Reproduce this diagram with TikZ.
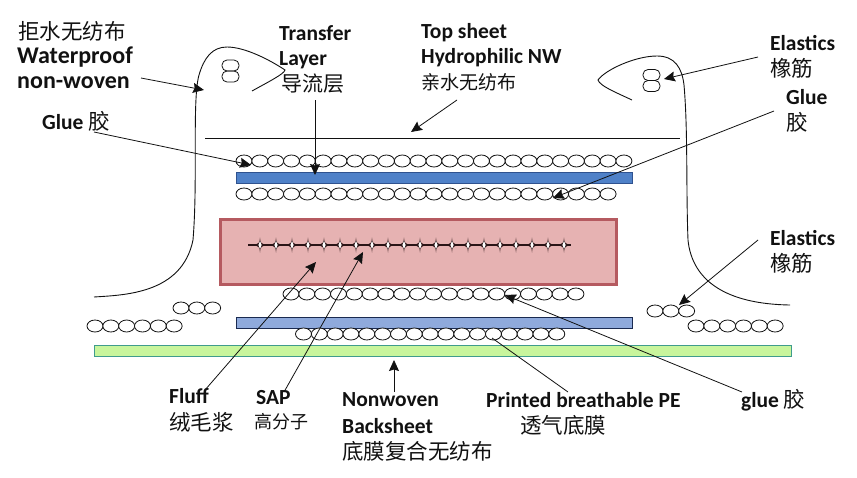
\documentclass[tikz,border=0pt]{standalone}
\usepackage{fontspec}
\setmainfont{Carlito}
\newfontfamily\cjk{Noto Sans CJK SC}
\usetikzlibrary{arrows.meta}
\definecolor{inkc}{HTML}{111111}
\definecolor{blueA}{HTML}{4F81C8}
\definecolor{blueB}{HTML}{8FAADC}
\definecolor{navy}{HTML}{1A2A50}
\definecolor{blueD}{HTML}{2F528F}
\definecolor{greenF}{HTML}{C8F59C}
\definecolor{greenD}{HTML}{3F9C8C}
\definecolor{redF}{HTML}{E6B2B2}
\definecolor{redD}{HTML}{B55A60}
\definecolor{fibre}{HTML}{2A1416}
\tikzset{
 x=1pt,y=-1pt,
 en/.style={anchor=west,inner sep=0pt,font=\fontsize{21.5}{21.5}\selectfont\bfseries,text=inkc},
 enbig/.style={anchor=west,inner sep=0pt,font=\fontsize{24}{24}\selectfont\bfseries,text=inkc},
 zh/.style={anchor=west,inner sep=0pt,font=\fontsize{21.5}{21.5}\selectfont\cjk,text=inkc},
 lead/.style={draw=inkc,line width=.8pt,-{Stealth[length=11pt,width=10pt,inset=1.5pt]}},
 plainlead/.style={draw=inkc,line width=.8pt},
 curveline/.style={draw=inkc,line width=.9pt},
 bead/.style={draw=inkc,line width=.8pt,fill=white},
 loopbox/.style={draw=inkc,line width=.8pt,rounded corners=5pt,minimum width=17pt,minimum height=11pt,inner sep=0pt},
}
% \beads{first centre x}{y}{count}
\newcommand{\beads}[3]{\foreach \i in {1,...,#3}{\path[bead] ({#1+(\i-1)*15.83},#2) ellipse [x radius=8,y radius=6];}}
\begin{document}
\begin{tikzpicture}
\useasboundingbox (0,0) rectangle (857,477);
% sheets
\node[draw=redD,line width=3pt,fill=redF,minimum width=396pt,minimum height=65pt,inner sep=0pt] (core) at (418.5,252) {};
\node[draw=blueD,line width=.8pt,fill=blueA,minimum width=396pt,minimum height=11pt,inner sep=0pt] (transfer) at (434,177.5) {};
\node[draw=navy,line width=.8pt,fill=blueB,minimum width=396pt,minimum height=11pt,inner sep=0pt] (pe) at (434,323) {};
\node[draw=greenD,line width=.8pt,fill=greenF,minimum width=697pt,minimum height=11pt,inner sep=0pt] (back) at (442.5,351) {};
% top sheet
\coordinate (topL) at (205,138);
\coordinate (topR) at (680,138);
\draw[line width=.9pt,draw=inkc] (topL) -- (topR);
% beads
\beads{244}{161}{25}
\beads{244}{194}{24}
\beads{291}{294}{19}
\beads{303.5}{334}{17}
\beads{181}{308}{3}
\beads{95}{326}{6}
\beads{655}{311}{3}
\beads{696}{326}{6}
% side curves
\draw[curveline] (94,297) .. controls (124,295) and (182,294) .. (193,240)
 .. controls (198,180) and (192,100) .. (199,75)
 .. controls (204,58) and (212,47) .. (227,47)
 .. controls (245,47) and (270,60) .. (285,70)
 .. controls (284,74) and (270,81) .. (252,91);
\draw[curveline] (632,100) .. controls (615,92) and (600,86) .. (598,80)
 .. controls (605,70) and (635,56) .. (657,56)
 .. controls (675,56) and (682,68) .. (684,85)
 .. controls (688,130) and (686,190) .. (688,240)
 .. controls (692,280) and (725,304) .. (790,305);
% elastics
\node[loopbox] (eL1) at (230.5,65.5) {};
\node[loopbox] (eL2) at (230.5,76.5) {};
\node[loopbox] (eR1) at (651.5,75) {};
\node[loopbox] (eR2) at (651.5,86) {};
% fibre strip
\coordinate (stripL) at (248,245);
\coordinate (stripR) at (571,245);
\draw[fibre,line width=1.4pt] (stripL) -- (stripR);
\foreach \i in {0,...,19}{
 \path[fill=fibre] ({260+\i*16},237.5) .. controls ({260.5+\i*16},243) .. ({266+\i*16},245)
   .. controls ({260.5+\i*16},247) .. ({260+\i*16},252.5)
   .. controls ({259.5+\i*16},247) .. ({254+\i*16},245)
   .. controls ({259.5+\i*16},243) .. ({260+\i*16},237.5) -- cycle;
 \path[fill=white] ({260+\i*16},241) -- ({261.6+\i*16},245) -- ({260+\i*16},249) -- ({258.4+\i*16},245) -- cycle;
}
% labels
\node[zh] (l1a) at (18,31) {拒水无纺布};
\node[enbig] (l1b) at (17,57) {Waterproof};
\node[enbig] (l1c) at (17,83) {non-woven};
\node[en] (l2) at (42,121) {Glue {\mdseries\cjk 胶}};
\node[en] (l3a) at (279,33) {Transfer};
\node[en] (l3b) at (279,60) {Layer};
\node[zh,font=\fontsize{21}{21}\selectfont\cjk] (l3c) at (281,84) {导流层};
\node[en] (l4a) at (421,33) {Top sheet};
\node[en] (l4b) at (421,58) {Hydrophilic NW};
\node[zh,font=\fontsize{19}{19}\selectfont\cjk] (l4c) at (421,82) {亲水无纺布};
\node[en] (l5a) at (770,43) {Elastics};
\node[zh] (l5b) at (770,68) {橡筋};
\node[en] (l6a) at (786,97) {Glue};
\node[zh] (l6b) at (786,122) {胶};
\node[en] (l7a) at (770,238) {Elastics};
\node[zh] (l7b) at (770,263) {橡筋};
\node[en] (l8) at (741,400) {glue {\mdseries\cjk 胶}};
\node[en] (l9a) at (486,400) {Printed breathable PE};
\node[zh] (l9b) at (520,425) {透气底膜};
\node[en] (l10a) at (342,400) {Nonwoven};
\node[en] (l10b) at (342,426) {Backsheet};
\node[zh] (l10c) at (342,451) {底膜复合无纺布};
\node[en] (l11a) at (169,396) {Fluff};
\node[zh] (l11b) at (169,422) {绒毛浆};
\node[en] (l12a) at (256,398) {SAP};
\node[zh,font=\fontsize{18}{18}\selectfont\cjk] (l12b) at (254,422) {高分子};
% connector ends
\coordinate (a1s) at (141,78); \coordinate (a1e) at (204,90);
\coordinate (a2s) at (94,132); \coordinate (a2e) at (251,165);
\coordinate (a3s) at (315,100); \coordinate (a3e) at (315,175);
\coordinate (a4s) at (457,100); \coordinate (a4e) at (411,132);
\coordinate (a5s) at (758,57); \coordinate (a5e) at (664,79);
\coordinate (a6s) at (774,111); \coordinate (a6e) at (553,198);
\coordinate (a7s) at (758,240); \coordinate (a7e) at (679,305);
\coordinate (a8s) at (742,392); \coordinate (a8e) at (505,295);
\coordinate (a9s) at (568,392); \coordinate (a9e) at (492,338);
\coordinate (a10s) at (394,392); \coordinate (a10e) at (394,360);
\coordinate (a11s) at (205,390); \coordinate (a11e) at (316,262);
\coordinate (a12s) at (284,392); \coordinate (a12e) at (363,252);
\foreach \k in {1,2,3,4,5,6,7,8,10,11,12}{\draw[lead] (a\k s) -- (a\k e);}
\draw[plainlead] (a9s) -- (a9e);
\end{tikzpicture}
\end{document}
